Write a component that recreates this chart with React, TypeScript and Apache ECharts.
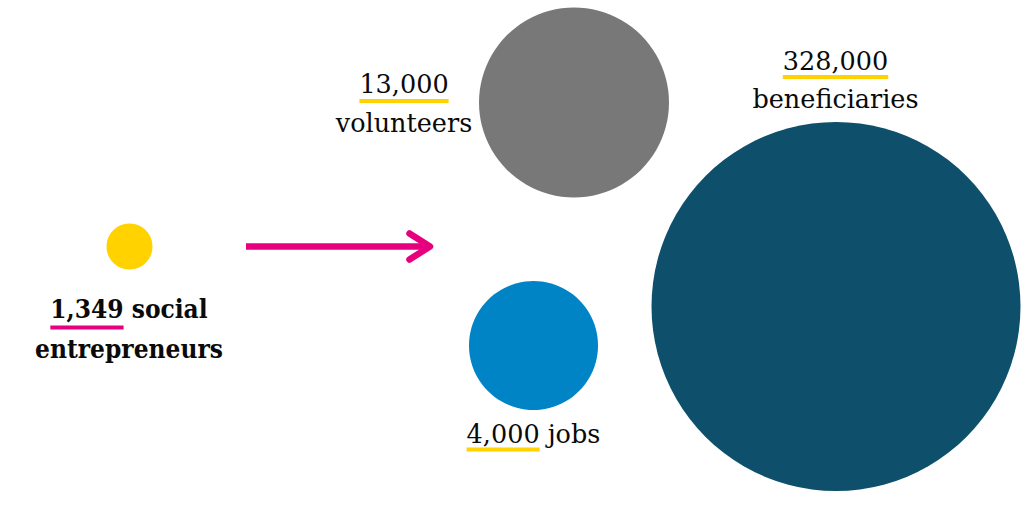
import React, { useEffect, useRef } from "react";
import * as echarts from "echarts";

// Data
const labels = ["social entrepreneurs", "volunteers", "jobs", "beneficiaries"];
const values = [1349, 13000, 4000, 328000];
const valueTexts = ["1,349", "13,000", "4,000", "328,000"];
const colors = ["#FFD200", "#787878", "#0084C6", "#0E4F6C"];
// layout (pixel-space coordinates on a 1024x512 canvas)
const posX = [129.5, 574, 533.5, 836];
const posY = [246.5, 102.5, 345.5, 306.5];
const diameters = [46, 190, 129, 369];

const FONT_BOLD = '"DejaVu Serif Condensed", "DejaVu Serif", serif';
const FONT_REG = '"DejaVu Serif", serif';
const PINK = "#E6007E";
const YELLOW = "#FFD200";

function measure(text: string, font: string) {
  const c = document.createElement("canvas").getContext("2d")!;
  c.font = font;
  return c.measureText(text).width;
}

export default function App() {
  const ref = useRef<HTMLDivElement>(null);
  useEffect(() => {
    const chart = echarts.init(ref.current!, null, { renderer: "svg" });
    const graphics: any[] = [];
    const addLabel = (
      lines: { text: string; y: number; num?: string }[],
      cx: number,
      font: string,
      ulColor: string,
      ulY: number
    ) => {
      lines.forEach((ln) => {
        graphics.push({
          type: "text",
          x: cx,
          y: ln.y,
          style: {
            text: ln.text,
            font,
            fill: "#0a0a0a",
            textAlign: "center",
            textVerticalAlign: "middle",
          },
        });
        if (ln.num) {
          const full = measure(ln.text, font);
          const nw = measure(ln.num, font);
          graphics.push({
            type: "rect",
            shape: { x: cx - full / 2, y: ulY, width: nw, height: 4 },
            style: { fill: ulColor },
          });
        }
      });
    };
    const fBold = `bold 26px ${FONT_BOLD}`;
    const fReg = `normal 25.5px ${FONT_REG}`;
    // 1,349 social entrepreneurs
    addLabel(
      [
        { text: valueTexts[0] + " social", y: 309, num: valueTexts[0] },
        { text: "entrepreneurs", y: 349 },
      ],
      129,
      fBold,
      PINK,
      325.5
    );
    // 13,000 volunteers
    addLabel(
      [
        { text: valueTexts[1], y: 84, num: valueTexts[1] },
        { text: labels[1], y: 123 },
      ],
      404,
      fReg,
      YELLOW,
      99
    );
    // 328,000 beneficiaries
    addLabel(
      [
        { text: valueTexts[3], y: 61, num: valueTexts[3] },
        { text: labels[3], y: 99 },
      ],
      835.5,
      fReg,
      YELLOW,
      75
    );
    // 4,000 jobs
    addLabel(
      [{ text: valueTexts[2] + " " + labels[2], y: 434, num: valueTexts[2] }],
      533.5,
      fReg,
      YELLOW,
      447.5
    );
    // arrow
    graphics.push({
      type: "line",
      shape: { x1: 246, y1: 246.5, x2: 429, y2: 246.5 },
      style: { stroke: PINK, lineWidth: 6.5, lineCap: "butt" },
    });
    graphics.push({
      type: "polyline",
      shape: { points: [[409.5, 233.5], [430, 246.5], [409.5, 259.5]] },
      style: { stroke: PINK, lineWidth: 6.5, lineCap: "round", lineJoin: "round", fill: "none" },
    });

    chart.setOption({
      animation: false,
      grid: { left: 0, right: 0, top: 0, bottom: 0 },
      xAxis: { type: "value", min: 0, max: 1024, show: false },
      yAxis: { type: "value", min: 0, max: 512, inverse: true, show: false },
      series: [
        {
          type: "scatter",
          data: values.map((v, i) => ({
            value: [posX[i], posY[i], v],
            name: labels[i],
            symbolSize: diameters[i],
            itemStyle: { color: colors[i], opacity: 1 },
          })),
          emphasis: { disabled: true },
        },
      ],
      graphic: graphics,
    });
    return () => chart.dispose();
  }, []);
  return (
    <div
      ref={ref}
      style={{ position: "fixed", left: 0, top: 0, width: 1024, height: 512, background: "#fff" }}
    />
  );
}
